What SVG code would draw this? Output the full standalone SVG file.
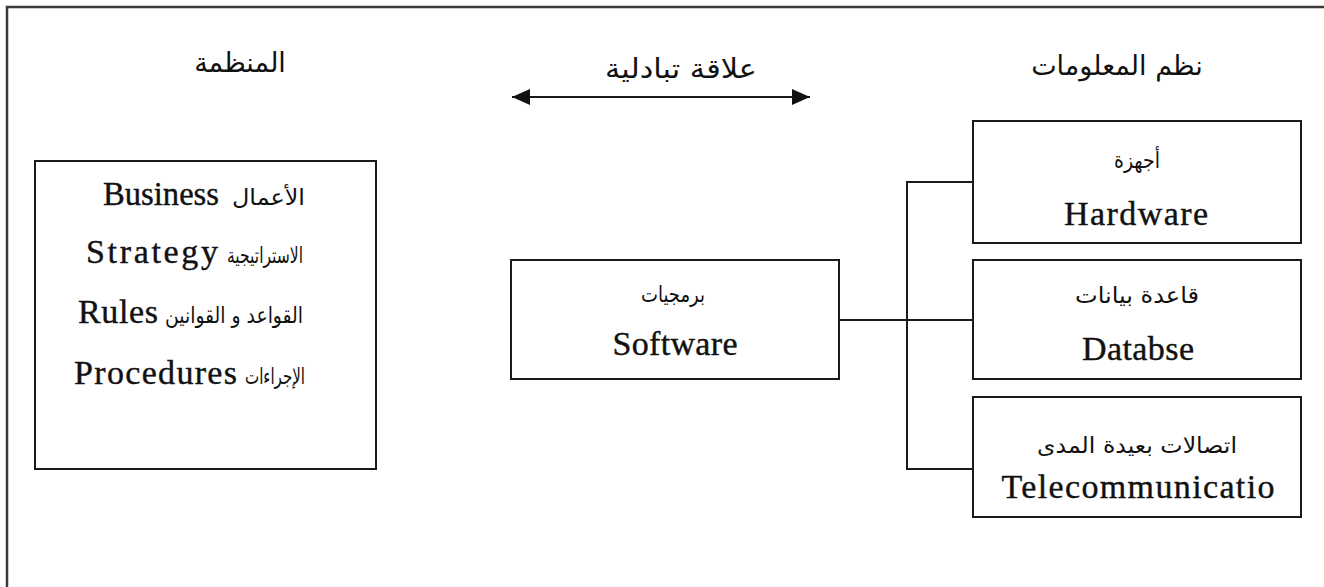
<svg xmlns="http://www.w3.org/2000/svg" width="1324" height="587" viewBox="0 0 1324 587">
  <defs>
    <marker id="head" viewBox="0 0 18 16" refX="18" refY="8" markerWidth="18" markerHeight="16" markerUnits="userSpaceOnUse" orient="auto-start-reverse">
      <path d="M0,0 L18,8 L0,16 Z" fill="#111"/>
    </marker>
    <style>
      .frame { fill: none; stroke: #3a3a3a; stroke-width: 2.5; }
      .box { fill: #fff; stroke: #1a1a1a; stroke-width: 2; }
      .wire { fill: none; stroke: #1a1a1a; stroke-width: 2; }
      .lat { font-family: "Liberation Serif", "Times New Roman", serif; font-size: 34px; fill: #111; stroke: #111; stroke-width: 0.4; }
      .ar { font-family: "DejaVu Sans", "Noto Sans", sans-serif; fill: #111; }
      .hd { font-size: 27px; }
      .sm { font-size: 22px; }
    </style>
  </defs>

  <rect width="1324" height="587" fill="#fff"/>
  <!-- page frame, only top and left edges fall inside the view -->
  <rect class="frame" x="7" y="7" width="1400" height="700"/>

  <!-- column headings -->
  <g id="heading-organization">
    <text class="ar hd" x="240" y="72" text-anchor="middle">المنظمة</text>
  </g>
  <g id="heading-relation">
    <text class="ar hd" x="681" y="78" text-anchor="middle" textLength="152" lengthAdjust="spacingAndGlyphs">علاقة تبادلية</text>
  </g>
  <g id="heading-is">
    <text class="ar hd" x="1117" y="75" text-anchor="middle">نظم المعلومات</text>
  </g>

  <!-- connectors -->
  <g id="connectors">
    <line class="wire" x1="512" y1="97" x2="810" y2="97" marker-start="url(#head)" marker-end="url(#head)" stroke-width="3"/>
    <polyline class="wire" points="973,182 907,182 907,469 973,469"/>
    <line class="wire" x1="839" y1="320" x2="973" y2="320"/>
  </g>

  <!-- organization box -->
  <g id="node-organization">
    <rect class="box" x="35" y="161" width="341" height="308"/>
    <text class="lat" x="219" y="205" text-anchor="end" textLength="116" lengthAdjust="spacingAndGlyphs">Business</text>
    <text class="ar sm" x="305" y="205" text-anchor="end" textLength="73" lengthAdjust="spacingAndGlyphs">الأعمال</text>
    <text class="lat" x="218" y="263" text-anchor="end" textLength="132">Strategy</text>
    <text class="ar sm" x="303" y="263" text-anchor="end" textLength="76" lengthAdjust="spacingAndGlyphs">الاستراتيجية</text>
    <text class="lat" x="158" y="323" text-anchor="end" textLength="80">Rules</text>
    <text class="ar sm" x="303" y="323" text-anchor="end" textLength="138" lengthAdjust="spacingAndGlyphs">القواعد و القوانين</text>
    <text class="lat" x="237" y="384" text-anchor="end" textLength="163">Procedures</text>
    <text class="ar sm" x="305" y="384" text-anchor="end" textLength="60" lengthAdjust="spacingAndGlyphs">الإجراءات</text>
  </g>

  <!-- software box -->
  <g id="node-software">
    <rect class="box" x="511" y="260" width="328" height="119"/>
    <text class="ar sm" x="673" y="302" text-anchor="middle" textLength="64" lengthAdjust="spacingAndGlyphs">برمجيات</text>
    <text class="lat" x="675" y="355" text-anchor="middle" textLength="125">Software</text>
  </g>

  <!-- hardware box -->
  <g id="node-hardware">
    <rect class="box" x="973" y="121" width="328" height="122"/>
    <text class="ar sm" x="1137" y="168" text-anchor="middle" textLength="46" lengthAdjust="spacingAndGlyphs">أجهزة</text>
    <text class="lat" x="1136" y="225" text-anchor="middle" textLength="144">Hardware</text>
  </g>

  <!-- database box -->
  <g id="node-database">
    <rect class="box" x="973" y="260" width="328" height="119"/>
    <text class="ar sm" x="1137" y="303" text-anchor="middle" textLength="124" lengthAdjust="spacingAndGlyphs">قاعدة بيانات</text>
    <text class="lat" x="1138" y="360" text-anchor="middle" textLength="112">Databse</text>
  </g>

  <!-- telecommunications box -->
  <g id="node-telecom">
    <rect class="box" x="973" y="397" width="328" height="120"/>
    <text class="ar sm" x="1137" y="453" text-anchor="middle" textLength="200" lengthAdjust="spacingAndGlyphs">اتصالات بعيدة المدى</text>
    <text class="lat" x="1138" y="498" text-anchor="middle" textLength="273">Telecommunicatio</text>
  </g>
</svg>
